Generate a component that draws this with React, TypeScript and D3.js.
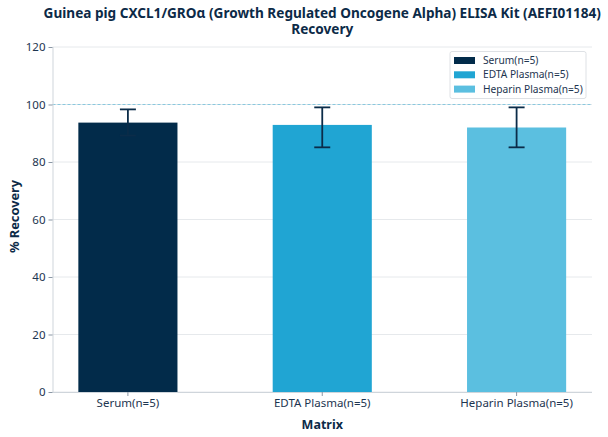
import React, { useEffect, useRef } from "react";
import * as d3 from "d3";

const WIDTH = 608;
const HEIGHT = 437;
const MARGIN = { top: 47, right: 16, bottom: 45, left: 52.5 };

const TITLE = [
  "Guinea pig CXCL1/GROα (Growth Regulated Oncogene Alpha) ELISA Kit (AEFI01184)",
  "Recovery",
];

const categories = ["Serum(n=5)", "EDTA Plasma(n=5)", "Heparin Plasma(n=5)"];
const recovery = [93.7, 92.9, 92.0];
const errLow = [89.2, 85.1, 85.1];
const errHigh = [98.3, 99.0, 99.0];
const colors = ["#022b4a", "#20a5d3", "#5bbfe0"];
const yTicks = [0, 20, 40, 60, 80, 100, 120];

const TEXT = "#0c2a47";
const FONT = "'Noto Sans', 'Open Sans', sans-serif";

export default function App() {
  const ref = useRef<SVGGElement>(null);
  const boundsWidth = WIDTH - MARGIN.left - MARGIN.right;
  const boundsHeight = HEIGHT - MARGIN.top - MARGIN.bottom;

  useEffect(() => {
    const g = d3.select(ref.current);
    g.selectAll("*").remove();

    const xScale = d3
      .scaleBand<string>()
      .domain(categories)
      .range([0, boundsWidth])
      .paddingInner(0.49)
      .paddingOuter(0.133);
    const yScale = d3.scaleLinear().domain([0, 120]).range([boundsHeight, 0]);

    // grid lines
    g.append("g")
      .selectAll("line")
      .data(yTicks)
      .enter()
      .append("line")
      .attr("x1", 0)
      .attr("x2", boundsWidth)
      .attr("y1", (d) => yScale(d))
      .attr("y2", (d) => yScale(d))
      .attr("stroke", "#e6e9ec")
      .attr("stroke-width", 1);

    // reference line at 100
    g.append("line")
      .attr("x1", 0)
      .attr("x2", boundsWidth)
      .attr("y1", yScale(100))
      .attr("y2", yScale(100))
      .attr("stroke", "#7fc4dc")
      .attr("stroke-width", 0.9)
      .attr("stroke-dasharray", "3,2");

    // bars
    g.append("g")
      .selectAll("rect")
      .data(categories)
      .enter()
      .append("rect")
      .attr("x", (d) => xScale(d) as number)
      .attr("y", (d, i) => yScale(recovery[i]))
      .attr("width", xScale.bandwidth())
      .attr("height", (d, i) => boundsHeight - yScale(recovery[i]))
      .attr("fill", (d, i) => colors[i]);

    // error bars
    const err = g
      .append("g")
      .selectAll("g")
      .data(categories)
      .enter()
      .append("g")
      .attr("stroke", "#0b2c49")
      .attr("stroke-width", 1.8);
    const cx = (d: string) => (xScale(d) as number) + xScale.bandwidth() / 2;
    err
      .append("line")
      .attr("x1", cx)
      .attr("x2", cx)
      .attr("y1", (d, i) => yScale(errLow[i]))
      .attr("y2", (d, i) => yScale(errHigh[i]));
    err
      .append("line")
      .attr("x1", (d) => cx(d) - 8)
      .attr("x2", (d) => cx(d) + 8)
      .attr("y1", (d, i) => yScale(errHigh[i]))
      .attr("y2", (d, i) => yScale(errHigh[i]));
    err
      .append("line")
      .attr("x1", (d) => cx(d) - 8)
      .attr("x2", (d) => cx(d) + 8)
      .attr("y1", (d, i) => yScale(errLow[i]))
      .attr("y2", (d, i) => yScale(errLow[i]));

    // axes
    const xAxis = g
      .append("g")
      .attr("transform", `translate(0, ${boundsHeight})`)
      .call(d3.axisBottom(xScale).tickSize(4).tickPadding(3));
    const yAxis = g
      .append("g")
      .call(d3.axisLeft(yScale).tickValues(yTicks).tickSize(4).tickPadding(3));
    [xAxis, yAxis].forEach((a) => {
      a.select(".domain").attr("stroke", "#cfd5db");
      a.selectAll(".tick line").attr("stroke", "#8a97a5");
      a.selectAll(".tick text")
        .attr("fill", "#1d3550")
        .attr("font-family", FONT)
        .attr("font-size", 11.5);
    });
    xAxis.select(".domain").attr("d", `M0,0.5H${boundsWidth}`);
    yAxis.select(".domain").attr("d", `M0.5,${boundsHeight}V0`);

    // axis labels
    g.append("text")
      .attr("x", boundsWidth / 2)
      .attr("y", boundsHeight + 37)
      .attr("text-anchor", "middle")
      .attr("font-family", FONT)
      .attr("font-weight", "bold")
      .attr("font-size", 12.5)
      .attr("fill", TEXT)
      .text("Matrix");
    g.append("text")
      .attr("transform", "rotate(-90)")
      .attr("x", -boundsHeight / 2 + 3)
      .attr("y", -34)
      .attr("text-anchor", "middle")
      .attr("font-family", FONT)
      .attr("font-weight", "bold")
      .attr("font-size", 12.8)
      .attr("fill", TEXT)
      .text("% Recovery");

    // title, one text per line
    g.append("g")
      .selectAll("text")
      .data(TITLE)
      .enter()
      .append("text")
      .attr("x", boundsWidth / 2)
      .attr("y", (d, i) => -MARGIN.top + 17.5 + i * 16.5)
      .attr("text-anchor", "middle")
      .attr("font-family", FONT)
      .attr("font-weight", "bold")
      .attr("font-size", 13.6)
      .attr("fill", TEXT)
      .text((d) => d);

    // legend
    const legend = g.append("g").attr("transform", `translate(${boundsWidth - 142}, 4.5)`);
    legend
      .append("rect")
      .attr("width", 136)
      .attr("height", 47)
      .attr("rx", 2)
      .attr("fill", "white")
      .attr("fill-opacity", 0.85)
      .attr("stroke", "#d5d9de")
      .attr("stroke-width", 0.8);
    const items = legend
      .selectAll("g")
      .data(categories)
      .enter()
      .append("g")
      .attr("transform", (d, i) => `translate(4, ${9 + i * 14.3})`);
    items
      .append("rect")
      .attr("y", -3.5)
      .attr("width", 21)
      .attr("height", 7)
      .attr("fill", (d, i) => colors[i]);
    items
      .append("text")
      .attr("x", 29)
      .attr("y", 3.6)
      .attr("font-family", FONT)
      .attr("font-size", 10.2)
      .attr("fill", "#1d3550")
      .text((d) => d);
  }, [boundsWidth, boundsHeight]);

  return (
    <div>
      <svg
        width={WIDTH}
        height={HEIGHT}
        style={{ position: "absolute", left: 0, top: 0, background: "white" }}
      >
        <g ref={ref} transform={`translate(${MARGIN.left},${MARGIN.top})`} />
      </svg>
    </div>
  );
}
